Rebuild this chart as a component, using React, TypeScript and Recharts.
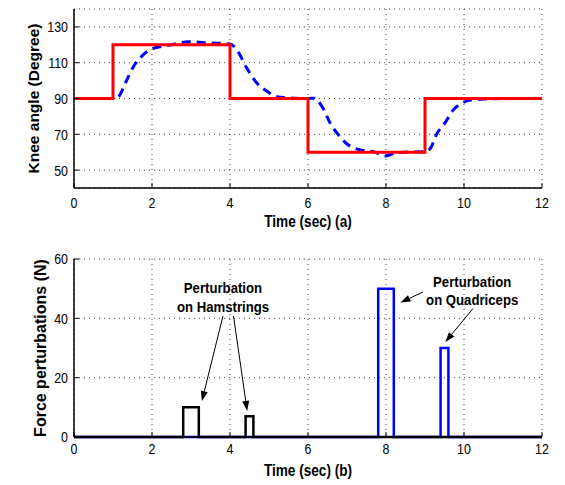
import React from 'react';
import {
  LineChart,
  Line,
  XAxis,
  YAxis,
  CartesianGrid,
  ReferenceLine,
  ReferenceDot,
} from 'recharts';

// tick labels
const timeTicks = [0, 2, 4, 6, 8, 10, 12];
const angleTicks = [50, 70, 90, 110, 130];
const forceTicks = [0, 20, 40, 60];

// (a) desired knee angle (step reference)
const refTime = [0, 1, 4, 6, 9, 12];
const refAngle = [90, 120, 90, 60, 90, 90];

// (a) measured knee angle
const respTime = [0, 0.5, 1.0, 1.14, 1.32, 1.53, 1.78, 2.0, 2.5, 2.94, 3.5, 4.0, 4.2, 4.43, 4.69, 4.95, 5.2, 5.5, 6.0, 6.14, 6.36, 6.57, 6.78, 7.0, 7.34, 7.68, 8.0, 8.24, 8.5, 9.0, 9.14, 9.31, 9.48, 9.73, 9.95, 10.2, 10.6, 11, 12];
const respAngle = [90, 90, 90, 91, 98.8, 108, 114.5, 117.7, 120, 121.7, 121, 120.5, 116.3, 107, 98.6, 94, 91, 90.3, 90, 90.2, 85.5, 76.2, 69.7, 64.6, 61.3, 60.3, 57.9, 59.7, 60, 60.3, 62.2, 70.6, 75.3, 83.7, 87.4, 89.3, 89.8, 90, 90];

// (b) force perturbations
const hamTime = [0, 2.8, 3.2, 4.4, 4.6, 12];
const hamForce = [0, 10, 0, 7, 0, 0];
const quadTime = [0, 7.8, 8.2, 9.4, 9.6, 12];
const quadForce = [0, 50, 0, 30, 0, 0];

// annotations (data coords)
const hamArrows = [
  { from: [3.82, 40.8], to: [3.28, 12.1] },
  { from: [4.09, 40.8], to: [4.44, 8.8] },
];
const quadArrows = [
  { from: [8.95, 48.9], to: [8.37, 45.3] },
  { from: [10.23, 43.3], to: [9.52, 32.0] },
];
const hamNote = { x: 3.82, y: 48.4, lines: ['Perturbation', 'on Hamstrings'] };
const quadNote = { x: 10.21, y: 50.7, lines: ['Perturbation', 'on Quadriceps'] };

const SANS = "'Liberation Sans', Arial, Helvetica, sans-serif";
const SQUEEZE = 0.83; // the original uses a narrow Helvetica

const zip = (xs: number[], ys: number[]) => xs.map((x, i) => ({ x, y: ys[i] }));

const axisLine = { stroke: '#000', strokeWidth: 1.5 };
const tickLine = { stroke: '#000', strokeWidth: 1 };
const noLabel = () => <g />;

// horizontal text squeezed to a narrow face
const Narrow = ({ x, y, anchor = 'middle', size = 15, bold = false, children }: any) => (
  <text
    transform={`translate(${x},${y}) scale(${SQUEEZE},1)`}
    textAnchor={anchor}
    fontFamily={SANS}
    fontSize={size}
    fontWeight={bold ? 'bold' : 'normal'}
    fill="#000"
  >
    {children}
  </text>
);

const BottomTick = (props: any) => {
  const { x, y, payload } = props;
  return (
    <Narrow x={x} y={y + 15 * 0.72}>
      {payload.value}
    </Narrow>
  );
};

const LeftTick = (props: any) => {
  const { x, y, payload } = props;
  return (
    <Narrow x={x} y={y + 15 * 0.36} anchor="end">
      {payload.value}
    </Narrow>
  );
};

const xLabel = (text: string, baselineFromBottom: number) => (props: any) => {
  const { x, y, width, height } = props.viewBox;
  return (
    <Narrow x={x + width / 2} y={y + height - baselineFromBottom} size={16.4} bold>
      {text}
    </Narrow>
  );
};

const Arrow = (props: any) => {
  const { x1, y1, x2, y2 } = props;
  const a = Math.atan2(y2 - y1, x2 - x1);
  const len = 10;
  const half = 3.5;
  const bx = x2 - len * Math.cos(a);
  const by = y2 - len * Math.sin(a);
  const pts = [
    [x2, y2],
    [bx + half * Math.sin(a), by - half * Math.cos(a)],
    [bx - half * Math.sin(a), by + half * Math.cos(a)],
  ]
    .map((p) => p.join(','))
    .join(' ');
  return (
    <g>
      <line x1={x1} y1={y1} x2={bx} y2={by} stroke="#000" strokeWidth={1} />
      <polygon points={pts} fill="#000" />
    </g>
  );
};

const Note = ({ cx, cy, lines }: any) => (
  <text
    transform={`translate(${cx},${cy}) scale(0.85,1)`}
    textAnchor="middle"
    fontFamily={SANS}
    fontWeight="bold"
    fontSize={15.5}
    fill="#000"
  >
    {lines.map((l: string, i: number) => (
      <tspan key={l} x={0} dy={i ? 18.5 : 0}>
        {l}
      </tspan>
    ))}
  </text>
);

export default function App() {
  return (
    <div style={{ position: 'absolute', left: 0, top: 0, width: 565, height: 485, background: '#fff' }}>
      <div style={{ position: 'absolute', left: 0, top: 0 }}>
        <LineChart width={565} height={235} margin={{ top: 9, right: 23, bottom: 0, left: 0 }}>
          <CartesianGrid stroke="#444" strokeDasharray="1 4" />
          <XAxis
            dataKey="x"
            type="number"
            domain={[0, 12]}
            ticks={timeTicks}
            height={47}
            tick={<BottomTick />}
            axisLine={axisLine}
            tickLine={tickLine}
            tickSize={-5}
            tickMargin={14}
            label={{ content: xLabel('Time (sec) (a)', 8) }}
          />
          <XAxis
            xAxisId="top"
            orientation="top"
            dataKey="x"
            type="number"
            domain={[0, 12]}
            ticks={timeTicks}
            height={0}
            tick={noLabel}
            axisLine={axisLine}
            tickLine={tickLine}
            tickSize={-5}
          />
          <YAxis
            type="number"
            domain={[40, 140]}
            ticks={angleTicks}
            width={74}
            tick={<LeftTick />}
            axisLine={axisLine}
            tickLine={tickLine}
            tickSize={-5}
            tickMargin={11}
            label={{
              value: 'Knee angle (Degree)',
              angle: -90,
              position: 'insideLeft',
              offset: 33.5,
              style: { textAnchor: 'middle', fontFamily: SANS, fontWeight: 'bold', fontSize: 15.5, fill: '#000' },
            }}
          />
          <YAxis
            yAxisId="right"
            orientation="right"
            type="number"
            domain={[40, 140]}
            ticks={angleTicks}
            width={0}
            tick={noLabel}
            axisLine={axisLine}
            tickLine={tickLine}
            tickSize={-5}
          />
          <Line
            data={zip(respTime, respAngle)}
            dataKey="y"
            type="monotone"
            stroke="#0000ff"
            strokeWidth={3}
            strokeDasharray="9 6"
            dot={false}
            isAnimationActive={false}
          />
          <Line
            data={zip(refTime, refAngle)}
            dataKey="y"
            type="stepAfter"
            stroke="#ff0000"
            strokeWidth={3}
            dot={false}
            isAnimationActive={false}
          />
        </LineChart>
      </div>
      <div style={{ position: 'absolute', left: 0, top: 240 }}>
        <LineChart width={565} height={245} margin={{ top: 19, right: 23, bottom: 0, left: 0 }}>
          <CartesianGrid stroke="#444" strokeDasharray="1 4" />
          <XAxis
            dataKey="x"
            type="number"
            domain={[0, 12]}
            ticks={timeTicks}
            height={48}
            tick={<BottomTick />}
            axisLine={axisLine}
            tickLine={tickLine}
            tickSize={-5}
            tickMargin={11}
            label={{ content: xLabel('Time (sec) (b)', 9) }}
          />
          <XAxis
            xAxisId="top"
            orientation="top"
            dataKey="x"
            type="number"
            domain={[0, 12]}
            ticks={timeTicks}
            height={0}
            tick={noLabel}
            axisLine={axisLine}
            tickLine={tickLine}
            tickSize={-5}
          />
          <YAxis
            type="number"
            domain={[0, 60]}
            ticks={forceTicks}
            width={74}
            tick={<LeftTick />}
            axisLine={axisLine}
            tickLine={tickLine}
            tickSize={-5}
            tickMargin={11}
            label={{
              value: 'Force perturbations (N)',
              angle: -90,
              position: 'insideLeft',
              offset: 40,
              style: { textAnchor: 'middle', fontFamily: SANS, fontWeight: 'bold', fontSize: 16, fill: '#000' },
            }}
          />
          <YAxis
            yAxisId="right"
            orientation="right"
            type="number"
            domain={[0, 60]}
            ticks={forceTicks}
            width={0}
            tick={noLabel}
            axisLine={axisLine}
            tickLine={tickLine}
            tickSize={-5}
          />
          <Line
            data={zip(quadTime, quadForce)}
            dataKey="y"
            type="stepAfter"
            stroke="#0000ff"
            strokeWidth={2.5}
            dot={false}
            isAnimationActive={false}
          />
          <Line
            data={zip(hamTime, hamForce)}
            dataKey="y"
            type="stepAfter"
            stroke="#000"
            strokeWidth={2.5}
            dot={false}
            isAnimationActive={false}
          />
          {[...hamArrows, ...quadArrows].map((a, i) => (
            <ReferenceLine
              key={i}
              segment={[
                { x: a.from[0], y: a.from[1] },
                { x: a.to[0], y: a.to[1] },
              ]}
              shape={(p: any) => <Arrow {...p} />}
            />
          ))}
          {[hamNote, quadNote].map((n) => (
            <ReferenceDot
              key={n.lines[1]}
              x={n.x}
              y={n.y}
              r={0}
              shape={(p: any) => <Note {...p} lines={n.lines} />}
            />
          ))}
        </LineChart>
      </div>
    </div>
  );
}
